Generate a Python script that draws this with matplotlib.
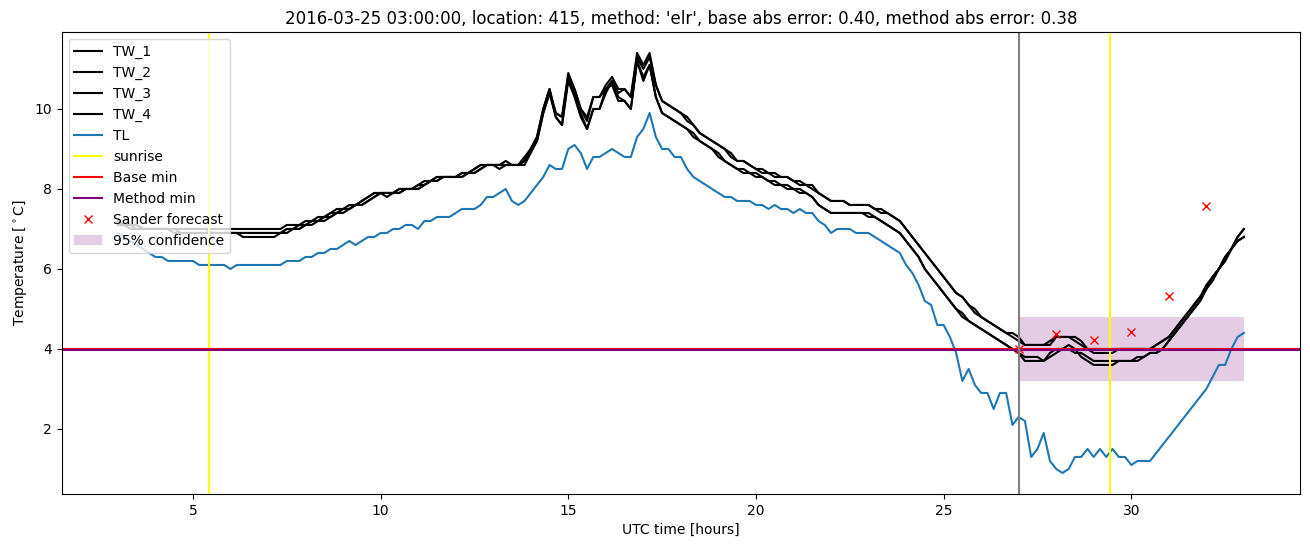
import numpy as np
import matplotlib
matplotlib.use('Agg')
import matplotlib.pyplot as plt


# 10 minute values from 03:00 on day 1 to 09:00 on day 2 (hours 3 .. 33)
tw_1 = [7.2, 7.1, 7.1, 7.1, 7.0, 7.0,
        7.0, 7.0, 7.0, 7.0, 7.0, 7.0,
        7.0, 7.0, 7.0, 7.0, 7.0, 7.0,
        7.0, 7.0, 7.0, 7.0, 7.0, 7.0,
        7.0, 7.0, 7.0, 7.1, 7.1, 7.1,
        7.2, 7.2, 7.3, 7.3, 7.4, 7.5,
        7.5, 7.6, 7.6, 7.7, 7.8, 7.9,
        7.9, 7.8, 7.9, 8.0, 8.0, 8.0,
        8.1, 8.2, 8.2, 8.3, 8.3, 8.3,
        8.3, 8.4, 8.4, 8.5, 8.6, 8.6,
        8.6, 8.6, 8.7, 8.6, 8.6, 8.8,
        9.0, 9.3, 10.0, 10.5, 9.9, 9.8,
        10.9, 10.5, 10.0, 9.7, 10.3, 10.3,
        10.6, 10.8, 10.5, 10.5, 10.3, 11.4,
        11.1, 11.4, 10.6, 10.2, 10.1, 10.0,
        9.9, 9.8, 9.6, 9.4, 9.3, 9.2,
        9.1, 9.0, 8.9, 8.7, 8.7, 8.6,
        8.5, 8.5, 8.4, 8.4, 8.3, 8.3,
        8.2, 8.2, 8.1, 8.1, 7.9, 7.8,
        7.7, 7.7, 7.7, 7.6, 7.6, 7.6,
        7.6, 7.5, 7.5, 7.4, 7.3, 7.2,
        7.0, 6.8, 6.6, 6.4, 6.2, 6.0,
        5.8, 5.6, 5.4, 5.3, 5.1, 5.0,
        4.8, 4.7, 4.6, 4.5, 4.4, 4.4,
        4.3, 4.1, 4.1, 4.1, 4.1, 4.2,
        4.3, 4.3, 4.3, 4.3, 4.2, 4.0,
        4.0, 4.0, 4.0, 4.0, 4.0, 4.0,
        4.0, 4.0, 4.0, 4.0, 4.1, 4.2,
        4.3, 4.5, 4.7, 4.9, 5.1, 5.3,
        5.6, 5.8, 6.0, 6.3, 6.5, 6.8,
        7.0]

tw_2 = [7.1, 7.1, 7.1, 7.0, 7.0, 7.0,
        7.0, 7.0, 7.0, 7.0, 6.9, 6.9,
        6.9, 6.9, 6.9, 6.9, 6.9, 6.9,
        6.9, 6.9, 6.9, 6.9, 6.9, 6.9,
        6.9, 6.9, 6.9, 7.0, 7.0, 7.1,
        7.1, 7.2, 7.2, 7.3, 7.3, 7.4,
        7.5, 7.5, 7.6, 7.6, 7.7, 7.8,
        7.9, 7.9, 7.9, 7.9, 8.0, 8.0,
        8.0, 8.1, 8.2, 8.2, 8.3, 8.3,
        8.3, 8.3, 8.4, 8.4, 8.5, 8.6,
        8.6, 8.5, 8.6, 8.6, 8.6, 8.7,
        9.0, 9.2, 9.9, 10.4, 9.9, 9.8,
        10.8, 10.5, 10.0, 9.8, 10.3, 10.3,
        10.5, 10.7, 10.4, 10.5, 10.3, 11.3,
        11.0, 11.3, 10.6, 10.2, 10.1, 10.0,
        9.9, 9.7, 9.6, 9.4, 9.3, 9.2,
        9.1, 9.0, 8.8, 8.7, 8.7, 8.6,
        8.5, 8.4, 8.4, 8.3, 8.3, 8.3,
        8.2, 8.1, 8.1, 8.0, 7.9, 7.8,
        7.7, 7.7, 7.7, 7.6, 7.6, 7.6,
        7.6, 7.5, 7.4, 7.4, 7.3, 7.2,
        7.0, 6.8, 6.6, 6.4, 6.2, 6.0,
        5.8, 5.6, 5.4, 5.3, 5.1, 4.9,
        4.8, 4.7, 4.6, 4.5, 4.4, 4.3,
        4.2, 4.1, 4.1, 4.1, 4.1, 4.1,
        4.3, 4.3, 4.3, 4.2, 4.1, 4.0,
        3.9, 3.9, 3.9, 3.9, 4.0, 4.0,
        4.0, 4.0, 4.0, 4.0, 4.1, 4.2,
        4.3, 4.5, 4.7, 4.9, 5.1, 5.3,
        5.5, 5.8, 6.0, 6.2, 6.5, 6.7,
        6.8]

tw_3 = [7.1, 7.1, 7.0, 7.0, 7.0, 7.0,
        7.0, 7.0, 7.0, 6.9, 6.9, 6.9,
        6.9, 6.9, 6.9, 6.9, 6.9, 6.9,
        6.9, 6.9, 6.8, 6.8, 6.8, 6.8,
        6.8, 6.8, 6.9, 6.9, 7.0, 7.0,
        7.1, 7.1, 7.2, 7.2, 7.3, 7.4,
        7.4, 7.5, 7.6, 7.6, 7.7, 7.8,
        7.9, 7.9, 7.9, 7.9, 8.0, 8.0,
        8.0, 8.1, 8.2, 8.2, 8.3, 8.3,
        8.3, 8.3, 8.4, 8.4, 8.5, 8.6,
        8.6, 8.6, 8.6, 8.6, 8.6, 8.6,
        8.9, 9.2, 9.9, 10.4, 9.8, 9.6,
        10.7, 10.3, 9.8, 9.5, 10.0, 10.0,
        10.5, 10.6, 10.2, 10.2, 10.0, 11.2,
        10.7, 11.1, 10.3, 9.9, 9.8, 9.7,
        9.6, 9.5, 9.4, 9.2, 9.1, 9.0,
        8.9, 8.7, 8.6, 8.5, 8.5, 8.4,
        8.4, 8.3, 8.2, 8.2, 8.1, 8.1,
        8.0, 8.0, 7.9, 7.8, 7.6, 7.5,
        7.4, 7.4, 7.4, 7.4, 7.4, 7.4,
        7.4, 7.3, 7.2, 7.1, 7.0, 6.9,
        6.7, 6.5, 6.3, 6.0, 5.8, 5.6,
        5.4, 5.2, 5.0, 4.9, 4.7, 4.6,
        4.5, 4.4, 4.3, 4.2, 4.1, 4.0,
        3.9, 3.7, 3.7, 3.7, 3.7, 3.9,
        4.0, 4.0, 4.1, 4.0, 3.8, 3.7,
        3.6, 3.6, 3.6, 3.6, 3.7, 3.7,
        3.7, 3.7, 3.8, 3.9, 3.9, 4.0,
        4.2, 4.4, 4.6, 4.8, 5.0, 5.2,
        5.5, 5.7, 6.0, 6.2, 6.5, 6.7,
        6.8]

tw_4 = [7.1, 7.1, 7.1, 7.1, 7.0, 7.0,
        7.0, 7.0, 7.0, 7.0, 7.0, 7.0,
        7.0, 7.0, 7.0, 6.9, 6.9, 6.9,
        6.9, 6.9, 6.9, 6.9, 6.9, 6.9,
        6.9, 6.9, 6.9, 7.0, 7.0, 7.0,
        7.1, 7.2, 7.2, 7.3, 7.4, 7.4,
        7.5, 7.5, 7.6, 7.7, 7.8, 7.9,
        7.9, 7.9, 7.9, 8.0, 8.0, 8.0,
        8.1, 8.1, 8.2, 8.3, 8.3, 8.3,
        8.3, 8.4, 8.4, 8.5, 8.6, 8.6,
        8.6, 8.6, 8.6, 8.6, 8.6, 8.7,
        9.0, 9.3, 10.0, 10.5, 9.8, 9.6,
        10.8, 10.4, 9.9, 9.5, 10.0, 10.0,
        10.4, 10.7, 10.3, 10.2, 10.0, 11.2,
        10.8, 11.1, 10.3, 9.9, 9.8, 9.7,
        9.6, 9.5, 9.3, 9.2, 9.1, 9.0,
        8.8, 8.7, 8.6, 8.5, 8.4, 8.4,
        8.3, 8.3, 8.2, 8.1, 8.1, 8.0,
        8.0, 7.9, 7.9, 7.8, 7.6, 7.5,
        7.4, 7.4, 7.4, 7.4, 7.4, 7.4,
        7.3, 7.3, 7.2, 7.1, 7.0, 6.9,
        6.7, 6.5, 6.3, 6.0, 5.8, 5.6,
        5.4, 5.2, 5.0, 4.8, 4.7, 4.6,
        4.5, 4.4, 4.3, 4.2, 4.1, 4.0,
        3.9, 3.8, 3.8, 3.8, 3.7, 3.8,
        3.9, 4.0, 4.0, 3.9, 3.9, 3.8,
        3.7, 3.7, 3.7, 3.7, 3.7, 3.7,
        3.7, 3.8, 3.8, 3.9, 3.9, 4.0,
        4.2, 4.4, 4.6, 4.8, 5.0, 5.2,
        5.5, 5.8, 6.0, 6.3, 6.5, 6.8,
        7.0]

tl = [6.9, 6.8, 6.7, 6.6, 6.5, 6.4,
      6.3, 6.3, 6.2, 6.2, 6.2, 6.2,
      6.2, 6.1, 6.1, 6.1, 6.1, 6.1,
      6.0, 6.1, 6.1, 6.1, 6.1, 6.1,
      6.1, 6.1, 6.1, 6.2, 6.2, 6.2,
      6.3, 6.3, 6.4, 6.4, 6.5, 6.5,
      6.6, 6.7, 6.6, 6.7, 6.8, 6.8,
      6.9, 6.9, 7.0, 7.0, 7.1, 7.1,
      7.0, 7.2, 7.2, 7.3, 7.3, 7.3,
      7.4, 7.5, 7.5, 7.5, 7.6, 7.8,
      7.8, 7.9, 8.0, 7.7, 7.6, 7.7,
      7.9, 8.1, 8.3, 8.6, 8.5, 8.5,
      9.0, 9.1, 8.9, 8.5, 8.8, 8.8,
      8.9, 9.0, 8.9, 8.8, 8.8, 9.3,
      9.5, 9.9, 9.3, 9.0, 9.0, 8.8,
      8.8, 8.5, 8.3, 8.2, 8.1, 8.0,
      7.9, 7.8, 7.8, 7.7, 7.7, 7.7,
      7.6, 7.6, 7.5, 7.6, 7.5, 7.5,
      7.4, 7.5, 7.4, 7.4, 7.2, 7.1,
      6.9, 7.0, 7.0, 7.0, 6.9, 6.9,
      6.9, 6.8, 6.7, 6.6, 6.5, 6.4,
      6.1, 5.9, 5.6, 5.2, 5.1, 4.6,
      4.6, 4.3, 3.9, 3.2, 3.5, 3.1,
      2.9, 2.9, 2.5, 2.9, 2.9, 2.1,
      2.3, 2.2, 1.3, 1.5, 1.9, 1.2,
      1.0, 0.9, 1.0, 1.3, 1.3, 1.5,
      1.3, 1.5, 1.3, 1.5, 1.3, 1.3,
      1.1, 1.2, 1.2, 1.2, 1.4, 1.6,
      1.8, 2.0, 2.2, 2.4, 2.6, 2.8,
      3.0, 3.3, 3.6, 3.6, 4.0, 4.3,
      4.4]

hours = 3 + np.arange(len(tl)) / 6.0

sunrise_hours = [5.42, 29.42]
forecast_time = 27.0
base_min = 4.0
method_min = 3.97

sander_hours = [27, 28, 29, 30, 31, 32]
sander_temps = [4.0, 4.38, 4.22, 4.43, 5.32, 7.57]

conf_hours = [27, 33]
conf_low = 3.19
conf_high = 4.81


fig = plt.figure(figsize=(13.1, 5.47), dpi=100)
ax = fig.add_axes([0.047, 0.097, 0.9455, 0.8445])

ax.plot(hours, tw_1, color='black', label='TW_1')
ax.plot(hours, tw_2, color='black', label='TW_2')
ax.plot(hours, tw_3, color='black', label='TW_3')
ax.plot(hours, tw_4, color='black', label='TW_4')
ax.plot(hours, tl, color='tab:blue', label='TL')

ax.axvline(sunrise_hours[0], color='yellow', label='sunrise')
ax.axvline(sunrise_hours[1], color='yellow')

ax.axhline(base_min, color='red', label='Base min')
ax.axhline(method_min, color='purple', label='Method min')

ax.plot(sander_hours, sander_temps, 'rx', label='Sander forecast')
ax.fill_between(conf_hours, conf_low, conf_high, color='purple', alpha=0.2, lw=0, label='95% confidence')

ax.axvline(forecast_time, color='gray')

ax.set_xlabel('UTC time [hours]')
ax.set_ylabel(r'Temperature [$^\circ$C]')
ax.set_title("2016-03-25 03:00:00, location: 415, method: 'elr', base abs error: 0.40, method abs error: 0.38")
ax.legend(loc='upper left')

fig.savefig('out.png')
